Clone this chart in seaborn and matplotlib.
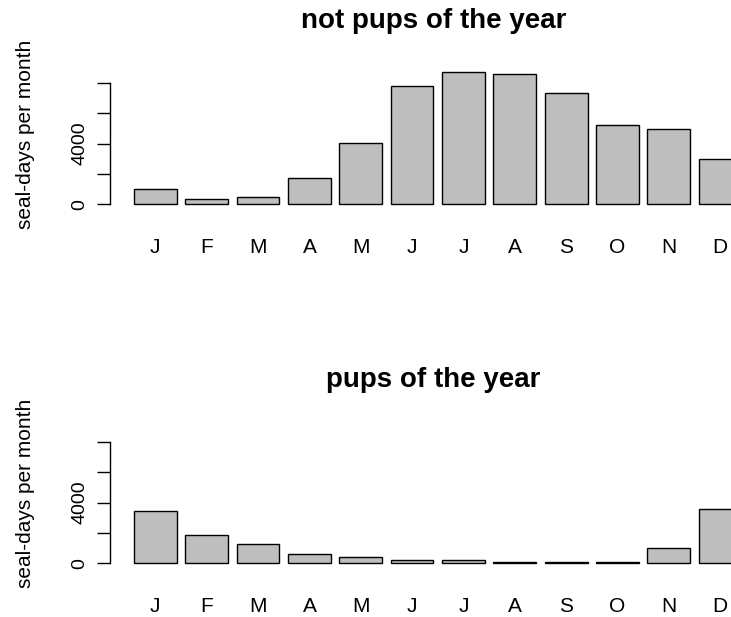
import matplotlib
matplotlib.use("Agg")
import matplotlib.pyplot as plt
import seaborn as sns

# monthly seal-days
months = ["Jan", "Feb", "Mar", "Apr", "May", "Jun",
          "Jul", "Aug", "Sep", "Oct", "Nov", "Dec"]
month_letters = ["J", "F", "M", "A", "M", "J", "J", "A", "S", "O", "N", "D"]
not_pups = [990, 350, 460, 1710, 4050, 7760, 8720, 8550, 7320, 5200, 4950, 3000]
pups = [3460, 1860, 1250, 630, 395, 200, 200, 70, 70, 70, 990, 3550]
titles = ["not pups of the year", "pups of the year"]
ytick_vals = [0, 2000, 4000, 6000, 8000]
ytick_labels = ["0", "", "4000", "", ""]

sns.set_style("white")
plt.rcParams["font.family"] = ["Liberation Sans", "DejaVu Sans"]
plt.rcParams["text.color"] = "black"
plt.rcParams["axes.labelcolor"] = "black"
plt.rcParams["xtick.color"] = "black"
plt.rcParams["ytick.color"] = "black"

W, H = 731, 617
fig = plt.figure(figsize=(W / 100, H / 100), dpi=100)

# axes boxes in pixels: left, top, right, bottom
boxes = [(110, 62, 757, 209.8), (110, 421, 757, 568.8)]

for vals, title, (l, t, r, b) in zip([not_pups, pups], titles, boxes):
    ax = fig.add_axes([l / W, 1 - b / H, (r - l) / W, (b - t) / H])
    sns.barplot(x=months, y=vals, order=months, ax=ax, color="#BEBEBE",
                saturation=1, edgecolor="black", linewidth=1.0, width=1 / 1.2)
    ax.set_xlim(-0.8833, 11.7167)
    ax.set_ylim(-360, 9360)
    for s in ["top", "right", "bottom"]:
        ax.spines[s].set_visible(False)
    ax.spines["left"].set_bounds(0, 8000)
    ax.spines["left"].set_linewidth(1.0)
    ax.spines["left"].set_color("black")
    ax.set_yticks(ytick_vals)
    ax.set_yticklabels(ytick_labels, rotation=90, va="center", fontsize=14)
    ax.tick_params(axis="y", left=True, length=9.5, width=1.0, pad=6,
                   color="black")
    ax.set_xticks(range(12))
    ax.set_xticklabels(month_letters, fontsize=15)
    ax.tick_params(axis="x", bottom=False, length=0, pad=20)
    ax.set_xlabel("")
    ax.set_ylabel("seal-days per month", fontsize=15)
    ax.yaxis.set_label_coords(-0.116, 0.51)
    ax.set_title(title, fontsize=20, fontweight="bold", pad=24.5)

fig.savefig("out.png", dpi=100)
